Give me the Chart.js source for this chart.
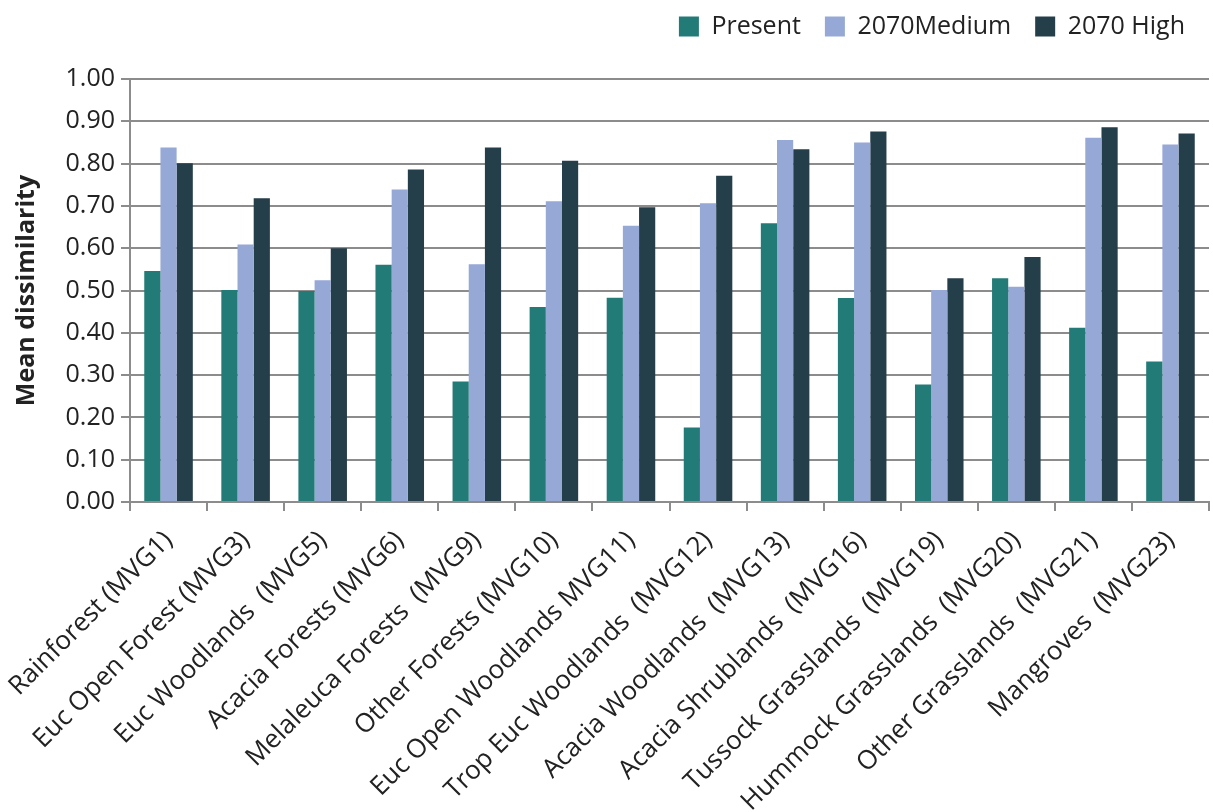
<!DOCTYPE html>
<html>
<head>
<meta charset="utf-8">
<script src="https://cdn.jsdelivr.net/npm/chart.js@4"></script>
<style>
  html, body { margin: 0; padding: 0; background: #fff; }
  #wrap { width: 1213px; height: 812px; }
</style>
</head>
<body>
<div id="wrap"><canvas id="chart"></canvas></div>
<script>
// Categorias (tipos de vegetação)
const categories = [
  'Rainforest (MVG1)', 'Euc Open Forest (MVG3)', 'Euc Woodlands  (MVG5)',
  'Acacia Forests (MVG6)', 'Melaleuca Forests  (MVG9)', 'Other Forests (MVG10)',
  'Euc Open Woodlands MVG11)', 'Trop Euc Woodlands  (MVG12)', 'Acacia Woodlands  (MVG13)',
  'Acacia Shrublands  (MVG16)', 'Tussock Grasslands  (MVG19)', 'Hummock Grasslands  (MVG20)',
  'Other Grasslands  (MVG21)', 'Mangroves  (MVG23)'
];

// Séries
const present = [0.546, 0.501, 0.499, 0.561, 0.285, 0.461, 0.483, 0.176, 0.659, 0.482, 0.278, 0.529, 0.412, 0.332];
const medium2070 = [0.838, 0.609, 0.524, 0.739, 0.562, 0.711, 0.653, 0.706, 0.856, 0.850, 0.501, 0.509, 0.861, 0.845];
const high2070 = [0.801, 0.718, 0.600, 0.786, 0.838, 0.807, 0.697, 0.771, 0.834, 0.876, 0.529, 0.579, 0.886, 0.871];

const yTicks = [0, 0.1, 0.2, 0.3, 0.4, 0.5, 0.6, 0.7, 0.8, 0.9, 1.0];

const FONT = '"Open Sans"';
const textColor = '#222';
const gridColor = '#8c8c8c';

// Espaço extra abaixo da legenda
const legendSpacer = {
  id: 'legendSpacer',
  beforeInit(chart) {
    const fit = chart.legend.fit;
    chart.legend.fit = function () {
      fit.bind(chart.legend)();
      this.height += 30;
    };
  }
};

new Chart(document.getElementById('chart'), {
  type: 'bar',
  data: {
    labels: categories,
    datasets: [
      { label: 'Present', data: present, backgroundColor: '#237b78' },
      { label: '2070Medium', data: medium2070, backgroundColor: '#95a8d6' },
      { label: '2070 High', data: high2070, backgroundColor: '#243e4a' }
    ]
  },
  plugins: [legendSpacer],
  options: {
    responsive: true,
    maintainAspectRatio: false,
    animation: false,
    layout: { padding: { left: 4, right: 4, top: -10, bottom: 0 } },
    datasets: { bar: { categoryPercentage: 0.63, barPercentage: 1.0 } },
    plugins: {
      legend: {
        position: 'top',
        align: 'end',
        labels: {
          boxWidth: 20,
          boxHeight: 20,
          padding: 24,
          color: textColor,
          font: { family: FONT, size: 25 }
        }
      },
      tooltip: { enabled: false }
    },
    scales: {
      x: {
        grid: {
          offset: true,
          drawOnChartArea: false,
          drawTicks: true,
          tickLength: 9,
          color: gridColor,
          lineWidth: 2
        },
        border: { color: gridColor, width: 2 },
        ticks: {
          autoSkip: false,
          maxRotation: 45,
          minRotation: 45,
          color: textColor,
          padding: 14,
          font: { family: FONT, size: 26 }
        },
        afterFit: (scale) => {
          scale.height = 310;
          scale.paddingLeft = 0;
          scale.paddingRight = 0;
        }
      },
      y: {
        min: 0,
        max: 1,
        afterBuildTicks: (scale) => { scale.ticks = yTicks.map(v => ({ value: v })); },
        grid: {
          color: gridColor,
          lineWidth: 2,
          tickLength: 9
        },
        border: { color: gridColor, width: 2 },
        ticks: {
          color: textColor,
          padding: 6,
          font: { family: FONT, size: 25 },
          callback: (v) => Number(v).toFixed(2)
        },
        title: {
          display: true,
          text: 'Mean dissimilarity',
          color: textColor,
          padding: { top: 8, bottom: 0 },
          font: { family: FONT, size: 25, weight: 'bold' }
        },
        afterFit: (scale) => { scale.width = 126; }
      }
    }
  }
});
</script>
</body>
</html>
